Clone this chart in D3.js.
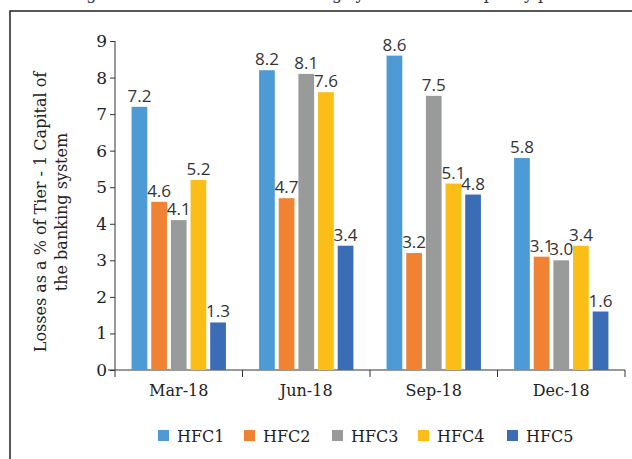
<!DOCTYPE html>
<html><head><meta charset="utf-8">
<script src="https://cdn.jsdelivr.net/npm/d3@7"></script>
<style>body{margin:0;background:#fff}svg{display:block}</style>
</head><body>
<svg id="c" width="632" height="459"></svg>
<script>
const categories = ["Mar-18","Jun-18","Sep-18","Dec-18"];
const seriesNames = ["HFC1","HFC2","HFC3","HFC4","HFC5"];
const HFC1 = [7.2, 8.2, 8.6, 5.8];
const HFC2 = [4.6, 4.7, 3.2, 3.1];
const HFC3 = [4.1, 8.1, 7.5, 3.0];
const HFC4 = [5.2, 7.6, 5.1, 3.4];
const HFC5 = [1.3, 3.4, 4.8, 1.6];
const yTicks = [0,1,2,3,4,5,6,7,8,9];
const colors = ["#4e9ad4","#f08234","#999b9b","#fbbd17","#3a6db5"];
const seriesVals = [HFC1,HFC2,HFC3,HFC4,HFC5];

const svg = d3.select("#c");
const serif = "'DejaVu Serif', serif";
const sans = "'Open Sans', sans-serif";

// clipped title fragment and frame
svg.append("text").attr("x",70).attr("y",-1).attr("font-family",serif).attr("font-size",16).attr("fill","#333")
  .text("Figure 2.1: Losses to the banking system due to capacity p");
svg.append("path").attr("d","M10,459 L10,11 L632,11").attr("fill","none").attr("stroke","#222").attr("stroke-width",1.5);

const x0 = d3.scaleBand().domain(categories).range([115,625]).paddingInner(0.26).paddingOuter(0.13);
const x1 = d3.scaleBand().domain(seriesNames).range([0,x0.bandwidth()]).paddingInner(0.2);
const y = d3.scaleLinear().domain([0,9]).range([370,41]);

// axes
const yAxis = svg.append("g").attr("transform","translate(115,0)")
  .call(d3.axisLeft(y).tickValues(yTicks).tickSize(5).tickFormat(d3.format("d")));
yAxis.select(".domain").attr("d","M0,"+y(9)+"V"+y(0)).attr("stroke","#333");
yAxis.selectAll(".tick line").attr("stroke","#333").attr("x1",-5).attr("x2",0);
yAxis.selectAll("text").attr("font-family",serif).attr("font-size",17).attr("fill","#222").attr("x",-8);

const xScaleOuter = d3.scalePoint().domain(d3.range(5)).range([115,625]);
const xg = svg.append("g");
xg.append("line").attr("x1",108).attr("x2",625).attr("y1",370).attr("y2",370).attr("stroke","#333");
xg.selectAll("line.t").data(d3.range(5)).join("line").attr("class","t")
  .attr("x1",d=>xScaleOuter(d)).attr("x2",d=>xScaleOuter(d)).attr("y1",370).attr("y2",377).attr("stroke","#333");
xg.selectAll("text").data(categories).join("text")
  .attr("x",d=>x0(d)+x0.bandwidth()/2).attr("y",396).attr("text-anchor","middle")
  .attr("font-family",serif).attr("font-size",16).attr("fill","#222").text(d=>d);

// bars
const data = [];
categories.forEach((c,i)=>seriesNames.forEach((s,j)=>data.push({c,s,j,v:seriesVals[j][i]})));
svg.append("g").selectAll("rect").data(data).join("rect")
  .attr("x",d=>x0(d.c)+x1(d.s)).attr("width",x1.bandwidth())
  .attr("y",d=>y(d.v)).attr("height",d=>y(0)-y(d.v))
  .attr("fill",d=>colors[d.j]);
svg.append("g").selectAll("text").data(data).join("text")
  .attr("x",d=>x0(d.c)+x1(d.s)+x1.bandwidth()/2).attr("y",d=>y(d.v)-5)
  .attr("text-anchor","middle").attr("font-family",sans).attr("font-size",17).attr("fill","#333")
  .text(d=>d3.format(".1f")(d.v));

// y title
const yt = svg.append("text").attr("transform","translate(0,212) rotate(-90)")
  .attr("text-anchor","middle").attr("font-family",serif).attr("font-size",16).attr("fill","#222");
yt.append("tspan").attr("x",0).attr("y",46).text("Losses as a % of Tier - 1 Capital of");
yt.append("tspan").attr("x",0).attr("y",67).text("the banking system");

// legend
const legX = [158,244,332,418,507];
const lg = svg.append("g").selectAll("g").data(seriesNames).join("g")
  .attr("transform",(d,i)=>"translate("+legX[i]+",430)");
lg.append("rect").attr("width",11).attr("height",11).attr("fill",(d,i)=>colors[i]);
lg.append("text").attr("x",19).attr("y",12).attr("font-family",serif).attr("font-size",16).attr("fill","#222").text(d=>d);
</script>
</body></html>
